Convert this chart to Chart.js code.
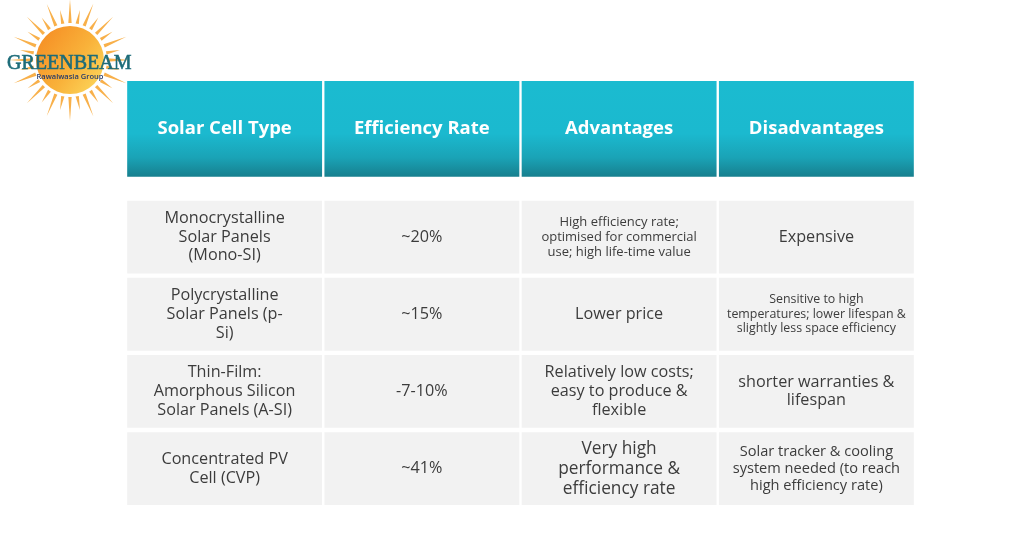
<!DOCTYPE html>
<html>
<head>
<meta charset="utf-8">
<script src="https://cdn.jsdelivr.net/npm/chart.js@4/dist/chart.umd.min.js"></script>
<style>
  html, body { margin: 0; padding: 0; background: #ffffff; }
  canvas { display: block; }
</style>
</head>
<body>
<canvas id="solarTable" width="1024" height="536"></canvas>
<script>
// Table content
const columnHeaders = ['Solar Cell Type', 'Efficiency Rate', 'Advantages', 'Disadvantages'];
const cellTypes = [
    'Monocrystalline\nSolar Panels\n(Mono-SI)',
    'Polycrystalline\nSolar Panels (p-\nSi)',
    'Thin-Film:\nAmorphous Silicon\nSolar Panels (A-SI)',
    'Concentrated PV\nCell (CVP)'
];
const efficiencyRates = ['~20%', '~15%', '-7-10%', '~41%'];
const advantages = [
    'High efficiency rate;\noptimised for commercial\nuse; high life-time value',
    'Lower price',
    'Relatively low costs;\neasy to produce &\nflexible',
    'Very high\nperformance &\nefficiency rate'
];
const disadvantages = [
    'Expensive',
    'Sensitive to high\ntemperatures; lower lifespan &\nslightly less space efficiency',
    'shorter warranties &\nlifespan',
    'Solar tracker & cooling\nsystem needed (to reach\nhigh efficiency rate)'
];

document.addEventListener('DOMContentLoaded', () => {
    const bodyColumns = [cellTypes, efficiencyRates, advantages, disadvantages];

    // layout in "row" units (one body row pitch = 1)
    const rowHeight = 0.944;
    const headerSpan = [-1.551, -0.31];
    // base sizes set the line spacing, the font itself is drawn a bit wider
    const fontSizes = [
        [15, 15, 15, 15],
        [15, 15, 15, 15],
        [12, 15, 15, 16],
        [15, 11.5, 15, 13.5]
    ];
    const fontScale = 1.08;
    const fontFamily = '"Open Sans", "DejaVu Sans", sans-serif';

    // header gradient, cyan fading to teal at the bottom
    function headerFill(context) {
        const chart = context.chart;
        if (!chart.chartArea) return '#1cbcd1';
        const yScale = chart.scales.y;
        const top = yScale.getPixelForValue(headerSpan[0]);
        const bottom = yScale.getPixelForValue(headerSpan[1]);
        const g = chart.ctx.createLinearGradient(0, top, 0, bottom);
        g.addColorStop(0, '#1bbbd0');
        g.addColorStop(0.55, '#1bb9cf');
        g.addColorStop(0.8, '#1aa3b6');
        g.addColorStop(1, '#177f8e');
        return g;
    }

    const rowSpans = [headerSpan].concat(efficiencyRates.map((_, i) => [i, i + rowHeight]));
    const datasets = rowSpans.map((span, r) => ({
        data: columnHeaders.map(() => span),
        backgroundColor: r === 0 ? headerFill : '#f2f2f2',
        borderWidth: 0,
        grouped: false,
        barPercentage: 1,
        categoryPercentage: 0.988
    }));

    // logo in the top left corner
    const logoPlugin = {
        id: 'logo',
        beforeDraw(chart) {
            const c = chart.ctx;
            const cx = 70, cy = 60;
            c.save();
            const rays = 32;
            for (let k = 0; k < rays; k++) {
                const a = k * 2 * Math.PI / rays - Math.PI / 2;
                const outer = k % 2 === 0 ? 61 : 51;
                const inner = 37;
                const w = 0.045;
                c.beginPath();
                c.moveTo(cx + Math.cos(a - w) * inner, cy + Math.sin(a - w) * inner);
                c.lineTo(cx + Math.cos(a) * outer, cy + Math.sin(a) * outer);
                c.lineTo(cx + Math.cos(a + w) * inner, cy + Math.sin(a + w) * inner);
                c.closePath();
                c.fillStyle = '#f8b04a';
                c.fill();
            }
            const sg = c.createLinearGradient(cx - 34, cy - 30, cx + 34, cy + 20);
            sg.addColorStop(0, '#f58a22');
            sg.addColorStop(0.6, '#f9b23a');
            sg.addColorStop(1, '#fcd55a');
            c.beginPath();
            c.arc(cx, cy, 34, 0, Math.PI * 2);
            c.fillStyle = sg;
            c.fill();

            c.fillStyle = '#1d6c79';
            c.strokeStyle = '#1d6c79';
            c.lineWidth = 0.6;
            c.font = '20px "Liberation Serif", "DejaVu Serif", serif';
            c.textAlign = 'left';
            c.textBaseline = 'alphabetic';
            c.fillText('GREENBEAM', 7, 69);
            c.strokeText('GREENBEAM', 7, 69);
            c.fillStyle = '#263a6a';
            c.font = '600 7.5px "Open Sans", sans-serif';
            c.textAlign = 'center';
            c.fillText('Rawalwasia Group', 70, 79);
            c.restore();
        }
    };

    // cell texts, placed through the scales
    const textPlugin = {
        id: 'tableText',
        afterDatasetsDraw(chart) {
            const { ctx, scales: { x, y } } = chart;
            ctx.save();
            ctx.textAlign = 'center';
            ctx.textBaseline = 'middle';

            const headerY = y.getPixelForValue((headerSpan[0] + headerSpan[1]) / 2);
            ctx.fillStyle = '#ffffff';
            ctx.font = 'bold 18.5px ' + fontFamily;
            columnHeaders.forEach((h, i) => ctx.fillText(h, x.getPixelForValue(i), headerY));

            ctx.fillStyle = '#3c3c3c';
            bodyColumns.forEach((col, ci) => {
                const cx = x.getPixelForValue(ci);
                col.forEach((txt, ri) => {
                    const size = fontSizes[ci][ri];
                    const lh = size * 1.25;
                    const lines = txt.split('\n');
                    const cy = y.getPixelForValue(ri + rowHeight / 2);
                    ctx.font = (size * fontScale).toFixed(1) + 'px ' + fontFamily;
                    lines.forEach((ln, k) => {
                        ctx.fillText(ln, cx, cy + (k - (lines.length - 1) / 2) * lh);
                    });
                });
            });
            ctx.restore();
        }
    };

    new Chart(document.getElementById('solarTable'), {
        type: 'bar',
        data: { labels: columnHeaders, datasets: datasets },
        options: {
            responsive: false,
            animation: false,
            layout: { padding: { left: 126, right: 109, top: 81, bottom: 31 } },
            plugins: { legend: { display: false }, tooltip: { enabled: false } },
            scales: {
                x: { display: false, offset: true },
                y: { display: false, reverse: true, min: headerSpan[0], max: 3 + rowHeight }
            }
        },
        plugins: [logoPlugin, textPlugin]
    });
});
</script>
</body>
</html>
